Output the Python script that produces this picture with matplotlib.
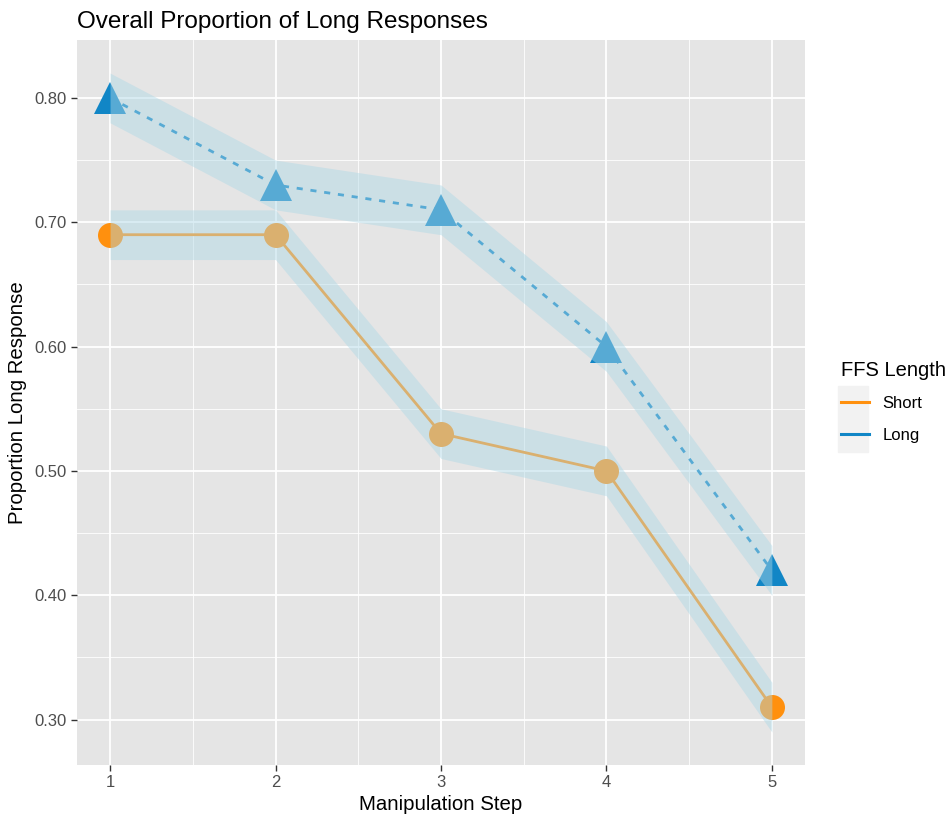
import matplotlib.pyplot as plt
from matplotlib.lines import Line2D
from matplotlib.patches import Rectangle
from matplotlib.ticker import FormatStrFormatter, MultipleLocator

# Proportion of long responses per manipulation step
steps = [1, 2, 3, 4, 5]
short_prop = [0.69, 0.69, 0.53, 0.50, 0.31]
long_prop = [0.80, 0.73, 0.71, 0.60, 0.42]
band = 0.02  # half-width of the shaded band

orange = "#FF900E"
blue = "#1186C6"
ribbon = "#ADD8E6"

plt.rcParams['font.family'] = ['Liberation Sans', 'DejaVu Sans']

fig = plt.figure(figsize=(9.47, 8.19), dpi=100)
ax = fig.add_axes([0.0813, 0.066, 0.7687, 0.885])
ax.set_facecolor("#E5E5E5")

# lines and points first, the bands go on top of them
ax.plot(steps, short_prop, color=orange, lw=2, solid_capstyle='butt', zorder=3)
ax.plot(steps, long_prop, color=blue, lw=2, ls=(0, (2.2, 2.8)), zorder=3)
ax.plot(steps, short_prop, 'o', color=orange, ms=18, mew=0, zorder=4)
ax.plot(steps, long_prop, '^', color=blue, ms=23, mew=0, zorder=4)

short_lo = [v - band for v in short_prop]
short_hi = [v + band for v in short_prop]
long_lo = [v - band for v in long_prop]
long_hi = [v + band for v in long_prop]
ax.fill_between(steps, short_lo, short_hi, color=ribbon, alpha=0.45, lw=0, zorder=5)
ax.fill_between(steps, long_lo, long_hi, color=ribbon, alpha=0.45, lw=0, zorder=5)

ax.set_xlim(0.8, 5.2)
ax.set_ylim(0.2635, 0.8465)
ax.set_xticks(steps)
ax.xaxis.set_minor_locator(MultipleLocator(0.5))
ax.yaxis.set_major_locator(MultipleLocator(0.1))
ax.yaxis.set_minor_locator(MultipleLocator(0.05))
ax.yaxis.set_major_formatter(FormatStrFormatter('%.2f'))

ax.grid(which='major', color='white', lw=1.3, zorder=0)
ax.grid(which='minor', color='white', lw=0.6, zorder=0)
ax.set_axisbelow(True)
for s in ax.spines.values():
    s.set_visible(False)
ax.tick_params(which='major', length=4, width=1, color='#333333',
               labelcolor='#4D4D4D', labelsize=12)
ax.tick_params(which='minor', length=0)

ax.set_xlabel("Manipulation Step", fontsize=14.7, labelpad=3)
ax.set_ylabel("Proportion Long Response", fontsize=14.7, labelpad=5)
ax.set_title("Overall Proportion of Long Responses", loc='left', fontsize=17.5,
             pad=9)

# legend: line keys on a light grey key background
fig.patches.append(Rectangle((838 / 947, 1 - 452 / 819), 30 / 947, 66 / 819,
                             transform=fig.transFigure, color="#F2F2F2", zorder=0))
handles = [Line2D([], [], color=orange, lw=2.2), Line2D([], [], color=blue, lw=2.2)]
leg = fig.legend(handles, ["Short", "Long"], title="FFS Length",
                 loc='upper left', bbox_to_anchor=(0.872, 0.578),
                 frameon=False, fontsize=12, title_fontsize=14.5,
                 handlelength=1.7, handletextpad=0.8, labelspacing=1.0,
                 alignment='left')

fig.savefig("out.png", dpi=100)
